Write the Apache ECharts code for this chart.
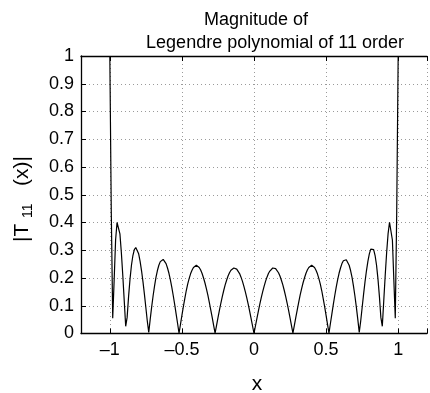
<!DOCTYPE html>
<html>
<head>
<meta charset="utf-8">
<style>
html,body{margin:0;padding:0;background:#fff;}
#chart{width:430px;height:393px;}
</style>
<script src="https://cdn.jsdelivr.net/npm/echarts@6/dist/echarts.min.js"></script>
</head>
<body>
<div id="chart"></div>
<script>
// Sample positions along x
var xValues = [-1.00,-0.99,-0.98,-0.97,-0.96,-0.95,-0.94,-0.93,-0.92,-0.91,-0.90,-0.89,-0.88,-0.87,-0.86,-0.85,-0.84,-0.83,-0.82,-0.81,-0.80,-0.79,-0.78,-0.77,-0.76,-0.75,-0.74,-0.73,-0.72,-0.71,-0.70,-0.69,-0.68,-0.67,-0.66,-0.65,-0.64,-0.63,-0.62,-0.61,-0.60,-0.59,-0.58,-0.57,-0.56,-0.55,-0.54,-0.53,-0.52,-0.51,-0.50,-0.49,-0.48,-0.47,-0.46,-0.45,-0.44,-0.43,-0.42,-0.41,-0.40,-0.39,-0.38,-0.37,-0.36,-0.35,-0.34,-0.33,-0.32,-0.31,-0.30,-0.29,-0.28,-0.27,-0.26,-0.25,-0.24,-0.23,-0.22,-0.21,-0.20,-0.19,-0.18,-0.17,-0.16,-0.15,-0.14,-0.13,-0.12,-0.11,-0.10,-0.09,-0.08,-0.07,-0.06,-0.05,-0.04,-0.03,-0.02,-0.01,0.00,0.01,0.02,0.03,0.04,0.05,0.06,0.07,0.08,0.09,0.10,0.11,0.12,0.13,0.14,0.15,0.16,0.17,0.18,0.19,0.20,0.21,0.22,0.23,0.24,0.25,0.26,0.27,0.28,0.29,0.30,0.31,0.32,0.33,0.34,0.35,0.36,0.37,0.38,0.39,0.40,0.41,0.42,0.43,0.44,0.45,0.46,0.47,0.48,0.49,0.50,0.51,0.52,0.53,0.54,0.55,0.56,0.57,0.58,0.59,0.60,0.61,0.62,0.63,0.64,0.65,0.66,0.67,0.68,0.69,0.70,0.71,0.72,0.73,0.74,0.75,0.76,0.77,0.78,0.79,0.80,0.81,0.82,0.83,0.84,0.85,0.86,0.87,0.88,0.89,0.90,0.91,0.92,0.93,0.94,0.95,0.96,0.97,0.98,0.99,1.00];

// |T11(x)| magnitude
var magnitude = [1.000,0.440,0.055,0.193,0.337,0.400,0.401,0.359,0.291,0.208,0.117,0.026,0.058,0.133,0.196,0.246,0.281,0.302,0.310,0.304,0.287,0.260,0.226,0.186,0.141,0.093,0.044,0.004,0.051,0.095,0.135,0.171,0.202,0.227,0.246,0.259,0.266,0.267,0.262,0.252,0.236,0.217,0.193,0.166,0.136,0.104,0.070,0.036,0.001,0.033,0.065,0.097,0.126,0.154,0.178,0.198,0.215,0.228,0.238,0.244,0.246,0.244,0.238,0.229,0.216,0.200,0.182,0.161,0.138,0.112,0.085,0.058,0.029,0.001,0.028,0.056,0.083,0.109,0.133,0.155,0.175,0.192,0.207,0.219,0.228,0.234,0.236,0.236,0.232,0.225,0.216,0.203,0.188,0.170,0.150,0.128,0.105,0.080,0.054,0.027,0.000,0.027,0.054,0.080,0.105,0.128,0.150,0.170,0.188,0.203,0.216,0.225,0.232,0.236,0.236,0.234,0.228,0.219,0.207,0.192,0.175,0.155,0.133,0.109,0.083,0.056,0.028,0.001,0.029,0.058,0.085,0.112,0.138,0.161,0.182,0.200,0.216,0.229,0.238,0.244,0.246,0.244,0.238,0.228,0.215,0.198,0.178,0.154,0.126,0.097,0.065,0.033,0.001,0.036,0.070,0.104,0.136,0.166,0.193,0.217,0.236,0.252,0.262,0.267,0.266,0.259,0.246,0.227,0.202,0.171,0.135,0.095,0.051,0.004,0.044,0.093,0.141,0.186,0.226,0.260,0.287,0.304,0.310,0.302,0.281,0.246,0.196,0.133,0.058,0.026,0.117,0.208,0.291,0.359,0.401,0.400,0.337,0.193,0.055,0.440,1.000];

var xTickLabels = ['\u20131', '\u20130.5', '0', '0.5', '1'];
var yTickLabels = ['0','0.1','0.2','0.3','0.4','0.5','0.6','0.7','0.8','0.9','1'];

var titleLine1 = 'Magnitude of';
var titleLine2 = 'Legendre polynomial of 11 order';
var xLabel = 'x';

var FONT = '"Liberation Sans", Arial, Helvetica, sans-serif';

var points = xValues.map(function (x, i) { return [x, magnitude[i]]; });

function xFmt(v) {
  var k = Math.round(v * 2);
  if (Math.abs(v * 2 - k) > 1e-6) return '';
  var idx = k + 2;
  return (idx >= 0 && idx < xTickLabels.length) ? xTickLabels[idx] : '';
}
function yFmt(v) {
  var k = Math.round(v * 10);
  return yTickLabels[k] !== undefined ? yTickLabels[k] : '';
}

var chart = echarts.init(document.getElementById('chart'), null, {renderer: 'canvas'});
chart.setOption({
  animation: false,
  backgroundColor: '#fff',
  grid: {left: 81, top: 56, width: 351, height: 277.5, containLabel: false},
  xAxis: [{
    type: 'value', min: -1.2, max: 1.2, position: 'bottom',
    axisLine: {show: true, onZero: false, lineStyle: {color: '#000', width: 1.3}},
    axisTick: {show: true, inside: true, length: 5, lineStyle: {color: '#000'}},
    axisLabel: {show: true, margin: 8, color: '#000', fontSize: 18, fontFamily: FONT, formatter: xFmt},
    splitLine: {show: true, lineStyle: {color: '#9a9a9a', type: [1, 3], width: 1}}
  }, {
    type: 'value', min: -1.2, max: 1.2, position: 'top',
    axisLine: {show: true, onZero: false, lineStyle: {color: '#000', width: 1.3}},
    axisTick: {show: true, inside: true, length: 5, lineStyle: {color: '#000'}},
    axisLabel: {show: false},
    splitLine: {show: false}
  }],
  yAxis: [{
    type: 'value', min: 0, max: 1, interval: 0.1, position: 'left',
    axisLine: {show: true, onZero: false, lineStyle: {color: '#000', width: 1.3}},
    axisTick: {show: true, inside: true, length: 5, lineStyle: {color: '#000'}},
    axisLabel: {show: true, margin: 7, color: '#000', fontSize: 18, fontFamily: FONT, formatter: yFmt},
    splitLine: {show: true, lineStyle: {color: '#9a9a9a', type: [1, 3], width: 1}}
  }],
  series: [{
    type: 'line',
    xAxisIndex: 0, yAxisIndex: 0,
    data: points,
    showSymbol: false, symbol: 'none',
    clip: true,
    lineStyle: {color: '#000', width: 1.2},
    z: 5
  }],
  graphic: [
    {type: 'text', x: 256, y: 20, style: {text: titleLine1, font: '18px ' + FONT, fill: '#000', textAlign: 'center', textVerticalAlign: 'middle'}},
    {type: 'text', x: 275, y: 43, style: {text: titleLine2, font: '18px ' + FONT, fill: '#000', textAlign: 'center', textVerticalAlign: 'middle'}},
    {type: 'text', x: 257, y: 384, style: {text: xLabel, font: '21px ' + FONT, fill: '#000', textAlign: 'center', textVerticalAlign: 'middle'}},
    {type: 'text', x: 22, y: 199, rotation: Math.PI / 2,
      style: {
        text: '{a||T }{s|11}{a|   (x)|}',
        textAlign: 'center', textVerticalAlign: 'middle', fill: '#000',
        rich: {
          a: {fontSize: 21, fontFamily: FONT, color: '#000', lineHeight: 26},
          s: {fontSize: 14, fontFamily: FONT, color: '#000', verticalAlign: 'bottom', lineHeight: 26}
        }
      }}
  ]
});
</script>
</body>
</html>
